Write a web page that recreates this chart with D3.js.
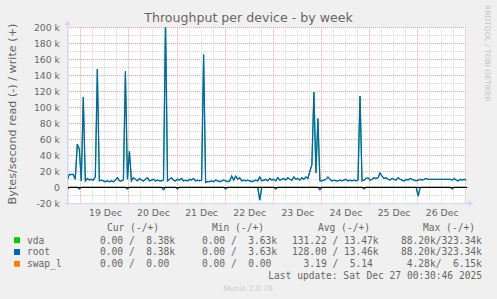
<!DOCTYPE html>
<html>
<head>
<meta charset="utf-8">
<script src="https://cdn.jsdelivr.net/npm/d3@7"></script>
<style>
  body { margin: 0; background: #f0f0f0; }
  svg { display: block; }
  .legend text { white-space: pre; }
</style>
</head>
<body>
<div id="chart"></div>
<script>
(function() {
  'use strict';

  // hourly samples, first one at Dec 18 17:30, values in k (bytes/s)
  const firstSample = new Date(2025, 11, 18, 17, 30)
  const vdaWrite = [
    9, 16, 16, 16, 10, 54, 48, 8, 113, 8,
    11, 9, 10, 9, 13, 148, 8, 9, 8, 7,
    8, 7, 8, 7, 9, 12, 8, 8, 9, 145,
    10, 45, 8, 12, 10, 8, 11, 9, 8, 10,
    12, 8, 9, 10, 8, 9, 8, 8, 9, 210,
    8, 10, 12, 9, 8, 10, 9, 11, 8, 9,
    8, 10, 9, 11, 8, 9, 8, 9, 166, 6,
    7, 7, 8, 7, 9, 8, 7, 8, 9, 8,
    7, 8, 14, 9, 14, 10, 12, 8, 9, 8,
    9, 8, 7, 8, 9, 8, 13, 8, 9, 10,
    8, 11, 9, 10, 8, 12, 9, 10, 11, 9,
    12, 10, 9, 13, 10, 11, 9, 12, 10, 13,
    11, 20, 28, 119, 18, 86, 8, 8, 9, 10,
    13, 10, 8, 9, 8, 8, 9, 8, 9, 10,
    8, 9, 8, 9, 8, 9, 114, 8, 9, 11,
    12, 9, 10, 12, 11, 12, 18, 14, 11, 12,
    10, 9, 11, 10, 9, 12, 10, 9, 8, 10,
    9, 11, 10, 9, 8, 9, 10, 9, 10, 11,
    10, 10, 10, 10, 10, 10, 10, 10, 10, 10,
    10, 10, 9, 11, 9, 8, 10, 9, 10, 9
  ]
  const vdaRead = [
    -2, 0, 0, 0, 0, 0, -2, 0, 0, 0, 0, 0, 0, 0, 0, 0, 0, 0, 0, 0,
    0, 0, 0, 0, 0, 0, 0, 0, 0, 0, -2, 0, 0, 0, 0, 0, 0, 0, 0, 0,
    0, 0, 0, 0, 0, 0, 0, 0, -3, 0, 0, 0, 0, 0, 0, -2, 0, 0, 0, 0,
    0, 0, 0, 0, 0, 0, 0, 0, 0, 0, 0, 0, 0, 0, 0, 0, 0, 0, 0, -2,
    0, 0, 0, 0, 0, 0, 0, 0, 0, 0, 0, 0, 0, 0, 0, 0, -16, 0, 0, 0,
    0, 0, 0, 0, -2, 0, 0, 0, 0, 0, 0, 0, 0, 0, 0, 0, 0, 0, 0, 0,
    0, 0, 0, 0, 0, 0, -3, 0, 0, 0, 0, 0, 0, 0, 0, 0, 0, 0, 0, 0,
    0, 0, 0, 0, 0, 0, 0, 0, -2, 0, 0, 0, 0, 0, 0, 0, 0, 0, 0, 0,
    0, 0, 0, 0, 0, 0, 0, 0, 0, 0, 0, 0, 0, 0, 0, -11, 0, 0, 0, 0,
    0, 0, 0, 0, 0, 0, 0, 0, 0, 0, 0, 0, -2, 0, 0, 0, 0, 0, 0, 0
  ]
  // root sits on the same disk, so it reads the same as vda
  const rootWrite = vdaWrite
  const rootRead = vdaRead
  const swapWrite = [
    0, 0, 0, 0, 0, 0, 0, 0, 0, 0, 0, 0, 0, 0, 0, 0, 0, 0, 0, 0,
    0, 0, 0, 0, 0, 0, 0, 0, 0, 0, 0, 0, 0, 0, 0, 0, 0, 0, 0, 0,
    0, 0, 0, 0, 0, 0, 0, 0, 0, 0, 0, 0, 0, 0, 0, 0, 0, 0, 0, 0,
    0, 0, 0, 0, 0, 0, 0, 0, 0, 0, 0, 0, 0, 0, 0, 0, 0, 0, 0, 0,
    0, 0, 0, 0, 0, 0, 0, 0, 0, 0, 0, 0, 0, 0, 0, 0, 1.2, 0, 0, 0,
    0, 0, 0, 0, 0, 0, 0, 0, 0, 0, 0, 0, 0, 0, 0, 0, 0, 0, 0, 0,
    0, 0, 1.2, 0, 0, 0, 0, 0, 0, 0, 0, 0, 0, 0, 0, 0, 0, 0, 0, 0,
    0, 0, 0, 0, 0, 0, 0, 0, 0, 0, 0, 0, 0, 0, 0, 0, 0, 0, 0, 0,
    0, 0, 0, 0, 0, 0, 0, 0, 0, 0, 0, 0, 0, 0, 0, 0, 0, 0, 0, 0,
    0, 0, 0, 0, 0, 0, 0, 0, 0, 0, 0, 0, 0, 0, 0, 0, 0, 0, 0, 0
  ]

  const dayLabels = ["19 Dec", "20 Dec", "21 Dec", "22 Dec", "23 Dec", "24 Dec", "25 Dec", "26 Dec"]
  const yTickValues = [-20, 0, 20, 40, 60, 80, 100, 120, 140, 160, 180, 200]
  const yTickLabels = ["-20 k", "0", "20 k", "40 k", "60 k", "80 k", "100 k", "120 k", "140 k", "160 k", "180 k", "200 k"]

  const legendNames = ["vda", "root", "swap_l"]
  const legendColors = ["#00cc00", "#0066b3", "#ff8000"]
  const legendHeaders = ["Cur (-/+)", "Min (-/+)", "Avg (-/+)", "Max (-/+)"]
  const curText = ["0.00 /  8.38k", "0.00 /  8.38k", "0.00 /  0.00"]
  const minText = ["0.00 /  3.63k", "0.00 /  3.63k", "0.00 /  0.00"]
  const avgText = ["131.22 / 13.47k", "128.00 / 13.46k", "  3.19 /  5.14"]
  const maxText = ["88.20k/323.34k", "88.20k/323.34k", " 4.28k/  6.15k"]

  const svgWidth = 497
  const svgHeight = 299
  const plot = { left: 67, right: 466.3, top: 27.3, bottom: 203.3 }
  const fontColor = "#666666"
  const axisColor = "#cfd6f8"

  const svg = d3.select("#chart").append("svg")
    .attr("width", svgWidth)
    .attr("height", svgHeight)

  svg.append("rect").attr("width", svgWidth).attr("height", svgHeight).attr("fill", "#f0f0f0")

  const xScale = d3.scaleTime()
    .domain([new Date(2025, 11, 18, 17, 22), new Date(2025, 11, 27, 0, 30, 46)])
    .range([plot.left, plot.right])
  const yScale = d3.scaleLinear()
    .domain([-20000, 200000])
    .range([plot.bottom, plot.top])

  const crisp = v => Math.round(v) + 0.5

  // canvas
  svg.append("rect")
    .attr("x", plot.left).attr("y", plot.top)
    .attr("width", plot.right - plot.left).attr("height", plot.bottom - plot.top)
    .attr("fill", "#ffffff")

  const grid = svg.append("g").attr("class", "grid")

  //minor horizontal lines every 10k, major every 20k
  d3.range(-20, 201, 10).forEach(v => {
    const y = crisp(yScale(v * 1000))
    const major = v % 20 === 0
    grid.append("line")
      .attr("x1", plot.left).attr("x2", plot.right + 1)
      .attr("y1", y).attr("y2", y)
      .attr("stroke", major ? "#eea0a0" : "#d4d4d4")
      .attr("stroke-dasharray", "1,1")
  })

  //vertical lines every 6 hours, red ones at midnight
  d3.timeHour.every(6).range(xScale.domain()[0], xScale.domain()[1]).forEach(t => {
    const x = crisp(xScale(t))
    const major = t.getHours() === 0
    grid.append("line")
      .attr("x1", x).attr("x2", x)
      .attr("y1", plot.top).attr("y2", plot.bottom)
      .attr("stroke", major ? "#eea0a0" : "#d4d4d4")
      .attr("stroke-dasharray", "1,1")
  })

  // y axis labels
  svg.append("g").selectAll("text")
    .data(yTickValues)
    .enter().append("text")
    .attr("x", 60)
    .attr("y", d => yScale(d * 1000) + 3.3)
    .attr("text-anchor", "end")
    .attr("font-family", "DejaVu Sans")
    .attr("font-size", "9.3px")
    .attr("fill", fontColor)
    .text((d, i) => yTickLabels[i])

  // day labels centred on noon
  svg.append("g").selectAll("text")
    .data(dayLabels)
    .enter().append("text")
    .attr("x", (d, i) => xScale(new Date(2025, 11, 19 + i, 12)) + 1)
    .attr("y", 216)
    .attr("text-anchor", "middle")
    .attr("font-family", "DejaVu Sans")
    .attr("font-size", "9.3px")
    .attr("fill", fontColor)
    .text(d => d)

  // the series
  svg.append("clipPath").attr("id", "plot-clip")
    .append("rect")
    .attr("x", plot.left).attr("y", plot.top)
    .attr("width", plot.right - plot.left + 1).attr("height", plot.bottom - plot.top)

  const lines = svg.append("g").attr("clip-path", "url(#plot-clip)")
  const sampleTime = i => d3.timeHour.offset(firstSample, i)
  const line = d3.line()
    .x((d, i) => xScale(sampleTime(i)))
    .y(d => yScale(d * 1000))

  const series = [
    { values: vdaWrite, color: legendColors[0], width: 1 },
    { values: vdaRead, color: legendColors[0], width: 1 },
    { values: rootWrite, color: legendColors[1], width: 1.3 },
    { values: rootRead, color: legendColors[1], width: 1.3 },
    { values: swapWrite, color: legendColors[2], width: 1 }
  ]
  series.forEach(s => {
    lines.append("path")
      .datum(s.values)
      .attr("d", line)
      .attr("fill", "none")
      .attr("stroke", s.color)
      .attr("stroke-width", s.width)
  })

  //zero line
  svg.append("line")
    .attr("x1", plot.left).attr("x2", plot.right + 1)
    .attr("y1", crisp(yScale(0))).attr("y2", crisp(yScale(0)))
    .attr("stroke", "#000000")

  // axes with arrows
  const ax = crisp(plot.left)
  const ay = crisp(plot.bottom)
  svg.append("line").attr("x1", ax).attr("x2", ax).attr("y1", ay + 2).attr("y2", plot.top - 3)
    .attr("stroke", axisColor)
  svg.append("line").attr("x1", ax - 2).attr("x2", plot.right + 4).attr("y1", ay).attr("y2", ay)
    .attr("stroke", axisColor)
  svg.append("path")
    .attr("d", "M" + (ax - 3) + "," + (plot.top - 2) + "L" + ax + "," + (plot.top - 7) + "L" + (ax + 3) + "," + (plot.top - 2) + "Z")
    .attr("fill", axisColor)
  svg.append("path")
    .attr("d", "M" + (plot.right + 2) + "," + (ay - 3) + "L" + (plot.right + 7) + "," + ay + "L" + (plot.right + 2) + "," + (ay + 3) + "Z")
    .attr("fill", axisColor)

  // title and axis caption
  svg.append("text")
    .attr("x", 248.5).attr("y", 22.3)
    .attr("text-anchor", "middle")
    .attr("font-family", "DejaVu Sans")
    .attr("font-size", "12.6px")
    .attr("fill", fontColor)
    .text("Throughput per device - by week")

  svg.append("text")
    .attr("transform", "translate(16,114) rotate(-90)")
    .attr("text-anchor", "middle")
    .attr("font-family", "DejaVu Sans")
    .attr("font-size", "11.2px")
    .attr("fill", fontColor)
    .text("Bytes/second read (-) / write (+)")

  svg.append("text")
    .attr("transform", "translate(484.5,5) rotate(90)")
    .attr("text-anchor", "start")
    .attr("font-family", "DejaVu Sans")
    .attr("font-size", "7.5px")
    .attr("fill", "#c4c4c4")
    .text("RRDTOOL / TOBI OETIKER")

  // legend
  const legend = svg.append("g")
    .attr("class", "legend")
    .attr("font-family", "DejaVu Sans Mono")
    .attr("font-size", "9.6px")
    .attr("fill", fontColor)

  const headerX = [107, 212, 318, 423]
  legendHeaders.forEach((h, i) => {
    legend.append("text").attr("x", headerX[i]).attr("y", 230.8).text(h)
  })

  legendNames.forEach((name, i) => {
    const y = 243.5 + i * 11.8
    legend.append("rect")
      .attr("x", 14).attr("y", y - 6.3)
      .attr("width", 6).attr("height", 6)
      .attr("fill", legendColors[i])
    legend.append("text").attr("x", 27).attr("y", y).text(name)
    legend.append("text").attr("x", 100).attr("y", y).text(curText[i])
    legend.append("text").attr("x", 202).attr("y", y).text(minText[i])
    legend.append("text").attr("x", 292).attr("y", y).text(avgText[i])
    legend.append("text").attr("x", 401).attr("y", y).text(maxText[i])
  })

  legend.append("text")
    .attr("x", 482).attr("y", 278.5)
    .attr("text-anchor", "end")
    .text("Last update: Sat Dec 27 00:30:46 2025")

  svg.append("text")
    .attr("x", 248).attr("y", 291)
    .attr("text-anchor", "middle")
    .attr("font-family", "DejaVu Sans")
    .attr("font-size", "7.6px")
    .attr("fill", "#cccccc")
    .text("Munin 2.0.76")
})();
</script>
</body>
</html>
